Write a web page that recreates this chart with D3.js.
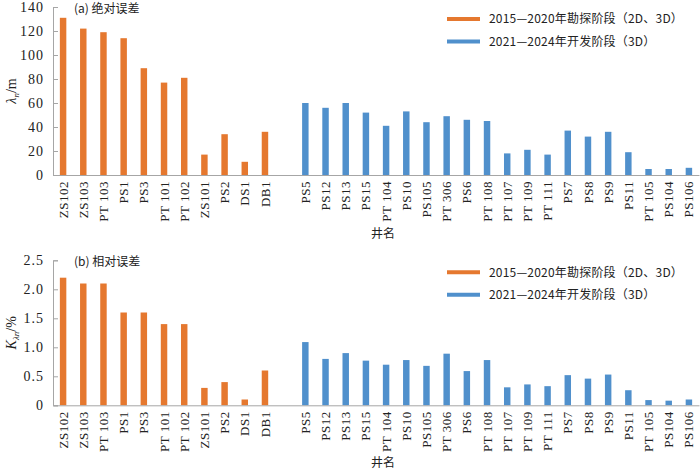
<!DOCTYPE html>
<html>
<head>
<meta charset="utf-8">
<script src="https://cdn.jsdelivr.net/npm/d3@7/dist/d3.min.js"></script>
<style>
  body { margin: 0; background: #fff; }
  svg { display: block; }
</style>
</head>
<body>
<div class="chart"></div>
<script>
const WIDTH = 700;
const HEIGHT = 471;
const ORANGE = '#E5782F';
const BLUE = '#5090CC';
const NUM_FONT = '"Liberation Serif", "DejaVu Serif", serif';
const CJK_FONT = '"Noto Sans CJK SC", sans-serif';

// wells
const exploreWells = ['ZS102', 'ZS103', 'PT 103', 'PS1', 'PS3', 'PT 101', 'PT 102', 'ZS101', 'PS2', 'DS1', 'DB1'];
const developWells = ['PS5', 'PS12', 'PS13', 'PS15', 'PT 104', 'PS10', 'PS105', 'PT 306', 'PS6', 'PT 108',
  'PT 107', 'PT 109', 'PT 111', 'PS7', 'PS8', 'PS9', 'PS11', 'PT 105', 'PS104', 'PS106'];

// (a) absolute error, m
const absExplore = [131, 122, 119, 114, 89, 77, 81, 17, 34, 11, 36];
const absDevelop = [60, 56, 60, 52, 41, 53, 44, 49, 46, 45, 18, 21, 17, 37, 32, 36, 19, 5, 5, 6];

// (b) relative error, %
const relExplore = [2.2, 2.1, 2.1, 1.6, 1.6, 1.4, 1.4, 0.3, 0.4, 0.1, 0.6];
const relDevelop = [1.09, 0.8, 0.9, 0.77, 0.7, 0.78, 0.68, 0.89, 0.59, 0.78, 0.31, 0.36, 0.33, 0.52, 0.46, 0.53, 0.26, 0.09, 0.08, 0.1];

const absTicks = [0, 20, 40, 60, 80, 100, 120, 140];
const relTicks = [0, 0.5, 1.0, 1.5, 2.0, 2.5];
const relTickLabels = ['0', '0.5', '1.0', '1.5', '2.0', '2.5'];

const seriesNames = ['2015—2020年勘探阶段（2D、3D）', '2021—2024年开发阶段（3D）'];

const svg = d3.select('.chart').append('svg')
  .attr('width', WIDTH)
  .attr('height', HEIGHT);

// gap slot between the two stages
const domain = [...exploreWells, '', ...developWells];
const x = d3.scaleBand()
  .domain(domain)
  .range([53, 699])
  .paddingInner(0.68)
  .paddingOuter(0.34);

function drawPanel(opts) {
  const { top, bottom, max, ticks, tickLabels, explore, develop, title, yLabel, xTitleY } = opts;
  const y = d3.scaleLinear().domain([0, max]).range([bottom, top]);
  const g = svg.append('g');

  const rows = [
    ...exploreWells.map((w, i) => ({ well: w, value: explore[i], color: ORANGE })),
    ...developWells.map((w, i) => ({ well: w, value: develop[i], color: BLUE })),
  ];

  // bars
  g.selectAll('rect.bar').data(rows).enter()
    .append('rect')
    .attr('class', 'bar')
    .attr('x', (d) => x(d.well))
    .attr('width', x.bandwidth())
    .attr('y', (d) => y(d.value))
    .attr('height', (d) => y(0) - y(d.value))
    .style('fill', (d) => d.color);

  // y axis
  const yAxis = d3.axisLeft(y)
    .tickValues(ticks)
    .tickSize(-5)
    .tickPadding(9)
    .tickFormat((d, i) => tickLabels[i]);
  const ya = g.append('g')
    .attr('transform', `translate(${x.range()[0]},0)`)
    .call(yAxis)
    .attr('font-family', NUM_FONT)
    .attr('font-size', 14);
  ya.select('.domain').attr('stroke', '#a6a6a6');
  ya.selectAll('.tick line').attr('stroke', '#a6a6a6');
  ya.selectAll('.tick text')
    .style('letter-spacing', '1px')
    .style('fill', '#222');

  // x axis
  const xAxis = d3.axisBottom(x).tickSize(0).tickPadding(6)
    .tickFormat((d) => d);
  const xa = g.append('g')
    .attr('transform', `translate(0,${bottom})`)
    .call(xAxis)
    .attr('font-family', NUM_FONT)
    .attr('font-size', 13);
  xa.select('.domain').attr('stroke', '#a6a6a6');
  xa.selectAll('.tick text')
    .attr('transform', 'rotate(-90)')
    .attr('x', -6)
    .attr('y', 0)
    .attr('dy', '0.35em')
    .style('text-anchor', 'end')
    .style('letter-spacing', '0.5px')
    .style('fill', '#222');

  // x title
  g.append('text')
    .attr('x', 383)
    .attr('y', xTitleY)
    .style('text-anchor', 'middle')
    .style('font-family', CJK_FONT)
    .style('font-size', '12px')
    .style('fill', '#222')
    .text('井名');

  // panel title
  g.append('text')
    .attr('x', 74)
    .attr('y', top + 6)
    .style('font-family', CJK_FONT)
    .style('font-size', '12px')
    .style('fill', '#222')
    .text(title);

  // y title
  const yt = g.append('text')
    .attr('transform', `translate(16,${(top + bottom) / 2}) rotate(-90)`)
    .style('text-anchor', 'middle')
    .style('font-family', NUM_FONT)
    .style('font-size', '14px')
    .style('fill', '#222');
  yLabel(yt);

  // legend
  const legend = g.append('g');
  seriesNames.forEach((name, i) => {
    const ly = top + 12 + i * 22.5;
    legend.append('line')
      .attr('x1', 447).attr('x2', 480)
      .attr('y1', ly).attr('y2', ly)
      .attr('stroke', i === 0 ? ORANGE : BLUE)
      .attr('stroke-width', 4);
    legend.append('text')
      .attr('x', 489)
      .attr('y', ly)
      .attr('dy', '0.35em')
      .style('font-family', CJK_FONT)
      .style('font-size', '12px')
      .style('letter-spacing', '0.2px')
      .style('fill', '#222')
      .text(name);
  });
}

drawPanel({
  top: 7,
  bottom: 175,
  max: 140,
  ticks: absTicks,
  tickLabels: absTicks.map(String),
  explore: absExplore,
  develop: absDevelop,
  title: '(a)  绝对误差',
  xTitleY: 238,
  yLabel: (t) => {
    t.append('tspan').style('font-style', 'italic').text('λ');
    t.append('tspan').style('font-style', 'italic').style('font-size', '9px')
      .attr('dy', 3).text('n');
    t.append('tspan').attr('dy', -3).text('/m');
  },
});

drawPanel({
  top: 260.3,
  bottom: 405.3,
  max: 2.5,
  ticks: relTicks,
  tickLabels: relTickLabels,
  explore: relExplore,
  develop: relDevelop,
  title: '(b)  相对误差',
  xTitleY: 467,
  yLabel: (t) => {
    t.append('tspan').style('font-style', 'italic').text('K');
    t.append('tspan').style('font-style', 'italic').style('font-size', '9px')
      .attr('dy', 3).text('λn');
    t.append('tspan').attr('dy', -3).text('/%');
  },
});
</script>
</body>
</html>
